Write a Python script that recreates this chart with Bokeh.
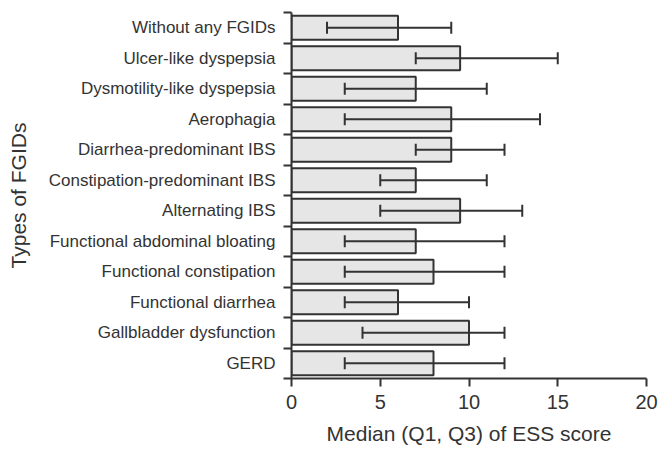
from bokeh.plotting import figure
from bokeh.models import ColumnDataSource, Range1d, FixedTicker, Whisker, TeeHead
from bokeh.embed import file_html
from bokeh.resources import INLINE

categories = [
    "Without any FGIDs",
    "Ulcer-like dyspepsia",
    "Dysmotility-like dyspepsia",
    "Aerophagia",
    "Diarrhea-predominant IBS",
    "Constipation-predominant IBS",
    "Alternating IBS",
    "Functional abdominal bloating",
    "Functional constipation",
    "Functional diarrhea",
    "Gallbladder dysfunction",
    "GERD",
]
median = [6, 9.5, 7, 9, 9, 7, 9.5, 7, 8, 6, 10, 8]
q1 = [2, 7, 3, 3, 7, 5, 5, 3, 3, 3, 4, 3]
q3 = [9, 15, 11, 14, 12, 11, 13, 12, 12, 10, 12, 12]
x_ticks = [0, 5, 10, 15, 20]

n = len(categories)
pos = list(range(n))
src = ColumnDataSource(dict(y=pos, med=median, q1=q1, q3=q3))

FONT = "Liberation Sans"
TXT = "#333333"
LINE = "#333333"

p = figure(width=669, height=460, output_backend="svg", toolbar_location=None,
           x_range=Range1d(0, 20), y_range=Range1d(n - 0.5, -0.5),
           min_border_left=291, min_border_right=23, min_border_top=12, min_border_bottom=82)
p.outline_line_color = None
p.grid.visible = False
p.background_fill_color = "white"

p.hbar(y="y", left=0, right="med", height=0.78, source=src,
       fill_color="#e6e6e6", line_color=LINE, line_width=2)

w = Whisker(base="y", lower="q1", upper="q3", dimension="width", source=src,
            line_color=LINE, line_width=2, level="overlay",
            lower_head=TeeHead(size=12, line_color=LINE, line_width=2),
            upper_head=TeeHead(size=12, line_color=LINE, line_width=2))
p.add_layout(w)

# x axis
xa = p.xaxis[0]
xa.ticker = FixedTicker(ticks=x_ticks)
xa.axis_label = "Median (Q1, Q3) of ESS score"
xa.axis_label_text_font = FONT
xa.axis_label_text_font_size = "21px"
xa.axis_label_text_font_style = "normal"
xa.axis_label_text_color = TXT
xa.axis_label_standoff = 10
xa.major_label_text_font = FONT
xa.major_label_text_font_size = "20px"
xa.major_label_text_color = TXT
xa.major_label_standoff = 8
xa.major_tick_out = 8
xa.major_tick_in = 0
xa.minor_tick_out = 0
xa.minor_tick_in = 0
xa.axis_line_color = LINE
xa.axis_line_width = 2
xa.major_tick_line_color = LINE
xa.major_tick_line_width = 2

# y axis
ya = p.yaxis[0]
ya.ticker = FixedTicker(ticks=pos, minor_ticks=[i - 0.5 for i in range(n + 1)])
ya.major_label_overrides = {i: c for i, c in zip(pos, categories)}
ya.axis_label = "Types of FGIDs"
ya.axis_label_text_font = FONT
ya.axis_label_text_font_size = "21px"
ya.axis_label_text_font_style = "normal"
ya.axis_label_text_color = TXT
ya.axis_label_standoff = 16
ya.major_label_text_font = FONT
ya.major_label_text_font_size = "17px"
ya.major_label_text_color = TXT
ya.major_label_standoff = 8
ya.major_tick_out = 0
ya.major_tick_in = 0
ya.minor_tick_out = 8
ya.minor_tick_in = 0
ya.minor_tick_line_color = LINE
ya.minor_tick_line_width = 2
ya.axis_line_color = LINE
ya.axis_line_width = 2

open("out.html", "w").write(file_html(p, INLINE))
